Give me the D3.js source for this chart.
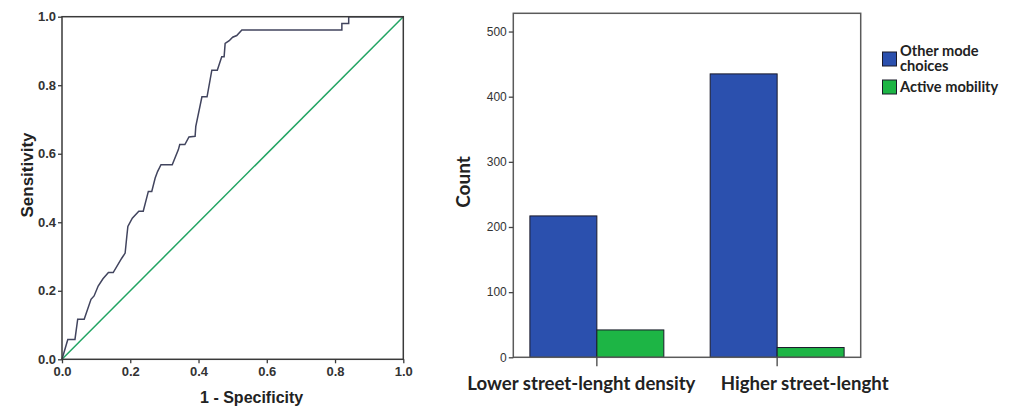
<!DOCTYPE html>
<html>
<head>
<meta charset="utf-8">
<script src="https://cdn.jsdelivr.net/npm/d3@7"></script>
<style>
  body { margin: 0; background: #fff; }
  svg { display: block; }
  .rocTick text { font-family: "Liberation Sans", Arial, sans-serif; font-weight: bold; font-size: 13px; fill: #333; }
  .barTick text { font-family: "Liberation Sans", Arial, sans-serif; font-size: 12px; fill: #333; }
</style>
</head>
<body>
<svg id="chart" width="1013" height="408"></svg>
<script>
/** ROC curve vertices (1 - specificity, sensitivity) */
var rocFpr = [0, 0.017, 0.038, 0.046, 0.065, 0.085, 0.094, 0.106, 0.12, 0.136, 0.15, 0.175, 0.185, 0.19, 0.193,
    0.206, 0.225, 0.238, 0.253, 0.263, 0.273, 0.28, 0.29, 0.323, 0.341, 0.345, 0.36, 0.372, 0.39, 0.392,
    0.41, 0.425, 0.439, 0.455, 0.468, 0.475, 0.478, 0.49, 0.5, 0.512, 0.527, 0.82, 0.82, 0.84, 0.84, 1];
var rocTpr = [0, 0.058, 0.058, 0.117, 0.117, 0.175, 0.185, 0.214, 0.235, 0.253, 0.253, 0.295, 0.31, 0.36, 0.388,
    0.412, 0.432, 0.432, 0.49, 0.49, 0.529, 0.548, 0.568, 0.568, 0.612, 0.627, 0.627, 0.649, 0.651, 0.68,
    0.766, 0.766, 0.844, 0.844, 0.883, 0.883, 0.922, 0.93, 0.94, 0.945, 0.961, 0.961, 0.98, 0.98, 1, 1];
var rocTicks = [0, 0.2, 0.4, 0.6, 0.8, 1.0];

/** Bar chart data */
var categories = ['Lower street-lenght density', 'Higher street-lenght'];
var seriesNames = ['Other mode choices', 'Active mobility'];
var otherMode = [217, 435];
var activeMobility = [42, 15];
var countTicks = [0, 100, 200, 300, 400, 500];

var seriesColors = ['#2b50ae', '#1db545'];

var svg = d3.select('#chart');

// ---------- left: ROC ----------
var rocLeft = 62, rocRight = 403.3, rocTop = 16.7, rocBottom = 359.3;

var xRoc = d3.scaleLinear().domain([0, 1]).range([rocLeft, rocRight]);
var yRoc = d3.scaleLinear().domain([0, 1]).range([rocBottom, rocTop]);

var roc = svg.append('g');

roc.append('line')
    .attr('x1', xRoc(0)).attr('y1', yRoc(0))
    .attr('x2', xRoc(1)).attr('y2', yRoc(1))
    .attr('stroke', '#22a463')
    .attr('stroke-width', 1.5);

var rocLine = d3.line()
    .x(function (d) { return xRoc(d[0]); })
    .y(function (d) { return yRoc(d[1]); });

roc.append('path')
    .datum(d3.zip(rocFpr, rocTpr))
    .attr('d', rocLine)
    .attr('fill', 'none')
    .attr('stroke', '#41445e')
    .attr('stroke-width', 1.5);

roc.append('rect')
    .attr('x', rocLeft).attr('y', rocTop)
    .attr('width', rocRight - rocLeft).attr('height', rocBottom - rocTop)
    .attr('fill', 'none')
    .attr('stroke', '#3a3a3a')
    .attr('stroke-width', 1.5);

var rocXAxis = roc.append('g')
    .attr('class', 'rocTick')
    .attr('transform', 'translate(0,' + rocBottom + ')')
    .call(d3.axisBottom(xRoc).tickValues(rocTicks).tickFormat(d3.format('.1f')).tickSize(4).tickPadding(3));

var rocYAxis = roc.append('g')
    .attr('class', 'rocTick')
    .attr('transform', 'translate(' + rocLeft + ',0)')
    .call(d3.axisLeft(yRoc).tickValues(rocTicks).tickFormat(d3.format('.1f')).tickSize(4).tickPadding(2));

[rocXAxis, rocYAxis].forEach(function (a) {
    a.select('.domain').remove();
    a.selectAll('line').attr('stroke', '#3a3a3a').attr('stroke-width', 1.3);
});

roc.append('text')
    .attr('x', (rocLeft + rocRight) / 2 + 19)
    .attr('y', 403)
    .attr('text-anchor', 'middle')
    .style('font-family', '"Liberation Sans", Arial, sans-serif')
    .style('font-weight', 'bold')
    .style('font-size', '16px')
    .style('fill', '#222')
    .text('1 - Specificity');

roc.append('text')
    .attr('transform', 'translate(33,175) rotate(-90)')
    .attr('text-anchor', 'middle')
    .style('font-family', '"Liberation Sans", Arial, sans-serif')
    .style('font-weight', 'bold')
    .style('font-size', '17px')
    .style('fill', '#222')
    .text('Sensitivity');

// ---------- right: bar chart ----------
var barLeft = 513.3, barRight = 860.7, barTop = 13.3, barBottom = 357.3;

var xBand = d3.scaleBand()
    .domain(categories)
    .range([barLeft, barRight])
    .paddingInner(0.257)
    .paddingOuter(0.092);

var xSeries = d3.scaleBand()
    .domain(seriesNames)
    .range([0, xBand.bandwidth()]);

var yCount = d3.scaleLinear().domain([0, 528]).range([barBottom, barTop]);

var bars = svg.append('g');

var values = [otherMode, activeMobility];

seriesNames.forEach(function (s, si) {
    bars.selectAll('.bar' + si)
        .data(categories)
        .enter()
        .append('rect')
        .attr('x', function (c) { return xBand(c) + xSeries(s); })
        .attr('y', function (c, i) { return yCount(values[si][i]); })
        .attr('width', xSeries.bandwidth())
        .attr('height', function (c, i) { return yCount(0) - yCount(values[si][i]); })
        .attr('fill', seriesColors[si])
        .attr('stroke', '#1a1a2a')
        .attr('stroke-width', 1);
});

bars.append('rect')
    .attr('x', barLeft).attr('y', barTop)
    .attr('width', barRight - barLeft).attr('height', barBottom - barTop)
    .attr('fill', 'none')
    .attr('stroke', '#5a5a5a')
    .attr('stroke-width', 1.5);

var countAxis = bars.append('g')
    .attr('class', 'barTick')
    .attr('transform', 'translate(' + barLeft + ',0)')
    .call(d3.axisLeft(yCount).tickValues(countTicks).tickSize(4.5).tickPadding(2));
countAxis.select('.domain').remove();
countAxis.selectAll('line').attr('stroke', '#444').attr('stroke-width', 1.3);

// category ticks below the axis
bars.selectAll('.catTick')
    .data(categories)
    .enter()
    .append('line')
    .attr('x1', function (c) { return xBand(c) + xBand.bandwidth() / 2; })
    .attr('x2', function (c) { return xBand(c) + xBand.bandwidth() / 2; })
    .attr('y1', barBottom)
    .attr('y2', barBottom + 9)
    .attr('stroke', '#444')
    .attr('stroke-width', 1.3);

// label start offsets relative to the band centre
var labelShift = [-129.5, -56.3];
bars.selectAll('.catLabel')
    .data(categories)
    .enter()
    .append('text')
    .attr('x', function (c, i) { return xBand(c) + xBand.bandwidth() / 2 + labelShift[i]; })
    .attr('y', 390)
    .style('font-family', 'Lato, sans-serif')
    .style('font-weight', 'bold')
    .style('font-size', '18.6px')
    .style('fill', '#222')
    .text(function (c) { return c; });

bars.append('text')
    .attr('transform', 'translate(470,182) rotate(-90)')
    .attr('text-anchor', 'middle')
    .style('font-family', 'Lato, sans-serif')
    .style('font-weight', 'bold')
    .style('font-size', '19px')
    .style('fill', '#222')
    .text('Count');

// legend
var legend = svg.append('g');
var legendLines = [['Other mode', 'choices'], ['Active mobility']];
var legendBoxY = [52, 80];

seriesNames.forEach(function (s, si) {
    legend.append('rect')
        .attr('x', 882.5).attr('y', legendBoxY[si])
        .attr('width', 14).attr('height', 14)
        .attr('fill', seriesColors[si])
        .attr('stroke', '#1a1a2a')
        .attr('stroke-width', 1);
    legendLines[si].forEach(function (t, li) {
        legend.append('text')
            .attr('x', 900)
            .attr('y', (si === 0 ? 56 : 91.5) + li * 15)
            .style('font-family', 'Lato, sans-serif')
            .style('font-weight', 'bold')
            .style('font-size', '14.6px')
            .style('fill', '#222')
            .text(t);
    });
});
</script>
</body>
</html>
